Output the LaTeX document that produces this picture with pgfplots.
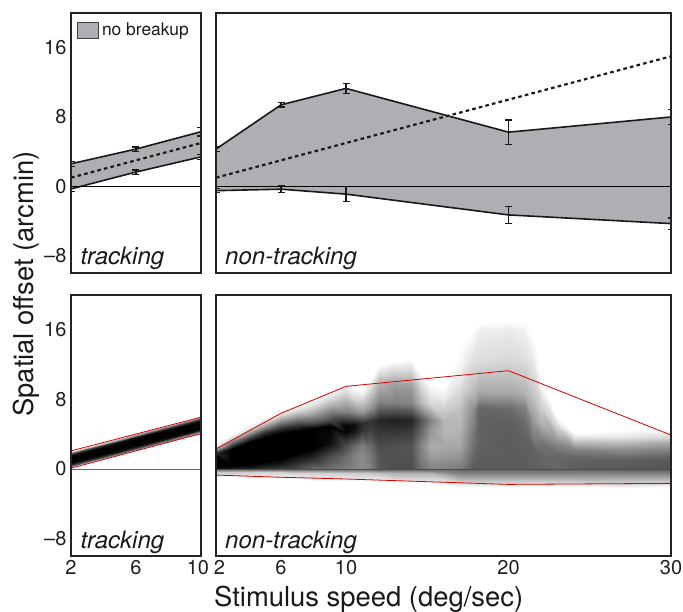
\documentclass[border=0pt]{standalone}
\usepackage{fontspec}
\setmainfont{TeX Gyre Heros}
\usepackage{pgfplots}
\usepackage{pgfplotstable}
\pgfplotsset{compat=1.18}
\definecolor{bandgray}{RGB}{174,175,178}
\definecolor{framec}{RGB}{35,35,35}
\pgfplotstableread{
x up upe lo loe
2 2.6 0.3 -0.3 0.3
6 4.3 0.25 1.65 0.25
10 6.3 0.5 3.4 0.3
}\trk
\pgfplotstableread{
x up upe lo loe
2 4.3 0.25 -0.5 0.25
6 9.4 0.25 -0.33 0.4
10 11.3 0.6 -0.9 0.85
20 6.25 1.4 -3.3 1.0
30 8.0 0.9 -4.3 0.65
}\ntrk
\tikzset{plab/.style={font=\fontsize{24}{26}\selectfont\itshape, anchor=base west, text=black!90}}
\pgfplotsset{
  panel/.style={scale only axis, clip=true,
    axis line style={line width=1.5pt, draw=framec},
    major tick length=0pt, tick style={draw=none},
    ymin=-10, ymax=20, ytick={-8,0,8,16},
    tick label style={font=\fontsize{20}{21}\selectfont, text=black!88},
    yticklabel style={xshift=-1pt},
    xticklabel style={yshift=-1pt},
    enlargelimits=false, axis on top},
  bandline/.style={line width=1.6pt, black!90, mark=none,
    error bars/.cd, y dir=both, y explicit,
    error bar style={line width=1.3pt, black!90},
    error mark options={rotate=90, line width=1.3pt, mark size=3.5pt, black!90}},
  dotline/.style={line width=2.2pt, black!90, dash pattern=on 3.6pt off 3.2pt},
  zero/.style={line width=0.7pt, black},
  redl/.style={line width=0.8pt, red!85!black},
  heat/.style={surf, shader=interp, point meta=explicit,
    colormap={invgray}{gray(0cm)=(0); gray(1cm)=(1)}, point meta min=0, point meta max=1,
    mesh/ordering=y varies},
}
\begin{document}
\begin{tikzpicture}
\path[use as bounding box] (0pt,0pt) rectangle (683pt,612pt);

% top left
\begin{axis}[panel, at={(71pt,339pt)}, anchor=south west, width=130pt, height=260pt,
  xmin=2, xmax=10, xtick=\empty, yticklabels={--8,0,8,16},
  legend style={at={(0.045,0.97)}, anchor=north west, draw=none, fill=none,
    inner sep=0pt, outer sep=0pt, font=\fontsize{17.4}{18}\selectfont, text=black!90,
    cells={anchor=west}, legend cell align=left},
  legend image code/.code={\draw[draw=black!75,line width=.7pt,fill=bandgray] (0pt,-8pt) rectangle (21pt,8pt);}]
\addplot[fill=bandgray, draw=none] coordinates {(2,2.6) (6,4.3) (10,6.3) (10,3.4) (6,1.65) (2,-0.3)} -- cycle;
\addlegendentry{\hspace*{1.5pt}no breakup}
\addplot[forget plot, bandline] table[x=x,y=up,y error=upe] {\trk};
\addplot[forget plot, bandline] table[x=x,y=lo,y error=loe] {\trk};
\addplot[zero, forget plot] coordinates {(2,0) (10,0)};
\addplot[dotline, forget plot] coordinates {(2,1) (10,5)};
\node[plab] at (axis cs:2.37,-9.05) {tracking};
\end{axis}

% top right
\begin{axis}[panel, at={(216pt,339pt)}, anchor=south west, width=455pt, height=260pt,
  xmin=2, xmax=30, xtick=\empty, ytick=\empty]
\addplot[fill=bandgray, draw=none] coordinates {(2,4.3) (6,9.4) (10,11.3) (20,6.25) (30,8.0) (30,-4.3) (20,-3.3) (10,-0.9) (6,-0.33) (2,-0.5)} -- cycle;
\addplot[forget plot, bandline] table[x=x,y=up,y error=upe] {\ntrk};
\addplot[forget plot, bandline] table[x=x,y=lo,y error=loe] {\ntrk};
\addplot[zero] coordinates {(2,0) (30,0)};
\addplot[dotline] coordinates {(2,1) (30,15)};
\node[plab] at (axis cs:2.35,-9.05) {non-tracking};
\end{axis}

% bottom left
\begin{axis}[panel, at={(71pt,56pt)}, anchor=south west, width=130pt, height=261pt,
  xmin=2, xmax=10, xtick={2,6,10}, xticklabels={2,6,10\hspace*{6pt}}, yticklabels={--8,0,8,16}]
\addplot[heat, mesh/rows=10] coordinates {
(2,0.08)[1] (2,0.2)[.8] (2,0.35)[.4] (2,0.55)[.1] (2,0.75)[0] (2,1.45)[0] (2,1.65)[.1] (2,1.85)[.4] (2,2.0)[.8] (2,2.12)[1]
(6,2.06)[1] (6,2.18)[.8] (6,2.33)[.4] (6,2.53)[.1] (6,2.73)[0] (6,3.43)[0] (6,3.63)[.1] (6,3.83)[.4] (6,3.98)[.8] (6,4.1)[1]
(10,4.05)[1] (10,4.17)[.8] (10,4.32)[.4] (10,4.52)[.1] (10,4.72)[0] (10,5.42)[0] (10,5.62)[.1] (10,5.82)[.4] (10,5.97)[.8] (10,6.09)[1]
};
\addplot[line width=.7pt, black!60] coordinates {(2,0) (10,0)};
\addplot[redl] coordinates {(2,2.08) (10,5.96)};
\addplot[redl] coordinates {(2,0.1) (10,4.07)};
\node[plab] at (axis cs:2.37,-9.1) {tracking};
\end{axis}

% bottom right
\begin{axis}[panel, at={(216pt,56pt)}, anchor=south west, width=455pt, height=261pt,
  xmin=2, xmax=30, xtick={2,6,10,20,30}, xticklabels={\hspace*{7pt}2,6,10,20,30}, ytick=\empty]
\addplot[heat, mesh/rows=12] coordinates {
(2,-.95)[1] (2,-.7)[.9] (2,-.4)[.78] (2,-.12)[.5] (2,.05)[.02] (2,.3)[0] (2,1.6)[0] (2,1.85)[.15] (2,2.1)[.4] (2,2.4)[.75] (2,2.7)[.95] (2,3)[1]
(3,-.95)[1] (3,-.7)[.9] (3,-.4)[.78] (3,-.12)[.5] (3,.05)[.1] (3,.3)[.02] (3,.5)[0] (3,2.3)[0] (3,2.7)[.2] (3,3.2)[.55] (3,3.7)[.9] (3,4.1)[1]
(4,-.95)[1] (4,-.7)[.9] (4,-.4)[.8] (4,-.12)[.5] (4,.05)[.15] (4,.3)[.05] (4,.5)[0] (4,3.15)[0] (4,3.6)[.25] (4,4.1)[.6] (4,4.7)[.93] (4,5.2)[1]
(5,-1)[1] (5,-.75)[.92] (5,-.4)[.82] (5,-.12)[.5] (5,.05)[.22] (5,.5)[.08] (5,.85)[0] (5,3.7)[0] (5,4.2)[.2] (5,4.8)[.55] (5,5.5)[.9] (5,6)[1]
(6,-1.1)[1] (6,-.8)[.92] (6,-.4)[.82] (6,-.12)[.5] (6,.05)[.25] (6,.6)[.1] (6,1.2)[0] (6,4.1)[0] (6,4.6)[.15] (6,5.4)[.5] (6,6.3)[.9] (6,6.9)[1]
(7,-1.2)[1] (7,-.9)[.92] (7,-.45)[.82] (7,-.12)[.5] (7,.05)[.3] (7,.9)[.15] (7,1.8)[0] (7,4.4)[0] (7,5)[.22] (7,5.8)[.5] (7,6.8)[.88] (7,7.5)[1]
(8,-1.3)[1] (8,-1)[.92] (8,-.5)[.82] (8,-.12)[.5] (8,.05)[.42] (8,1.2)[.18] (8,2.4)[0] (8,4.7)[0] (8,5.2)[.25] (8,6)[.52] (8,7.2)[.85] (8,8.2)[1]
(9,-1.3)[1] (9,-1)[.92] (9,-.5)[.82] (9,-.12)[.5] (9,.05)[.45] (9,1.5)[.3] (9,3)[.05] (9,4.9)[0] (9,5.6)[.3] (9,6.5)[.5] (9,7.8)[.8] (9,9)[1]
(10,-1.4)[1] (10,-1)[.9] (10,-.5)[.8] (10,-.12)[.5] (10,.05)[.5] (10,1.5)[.42] (10,2.6)[.3] (10,4.2)[.02] (10,4.9)[0] (10,6.5)[.5] (10,8.5)[.8] (10,10)[1]
(10.5,-1.4)[1] (10.5,-1)[.9] (10.5,-.5)[.8] (10.5,-.12)[.5] (10.5,.05)[.52] (10.5,1.5)[.5] (10.5,2.6)[.42] (10.5,4.3)[.1] (10.5,5)[.05] (10.5,6.5)[.55] (10.5,8.2)[.85] (10.5,9.5)[1]
(11,-1.4)[1] (11,-1)[.9] (11,-.5)[.8] (11,-.12)[.5] (11,.05)[.55] (11,1.5)[.55] (11,2.6)[.5] (11,4.5)[.2] (11,5.3)[.18] (11,6.5)[.6] (11,8)[.85] (11,9)[1]
(11.5,-1.4)[1] (11.5,-1)[.9] (11.5,-.5)[.78] (11.5,-.12)[.48] (11.5,.05)[.5] (11.5,1.5)[.48] (11.5,2.6)[.42] (11.5,4.5)[.25] (11.5,5.5)[.2] (11.5,7)[.58] (11.5,9)[.82] (11.5,10.2)[1]
(12,-1.4)[1] (12,-1)[.9] (12,-.5)[.75] (12,-.12)[.45] (12,.05)[.35] (12,1.5)[.33] (12,2.6)[.3] (12,4.5)[.2] (12,5.6)[.15] (12,7.6)[.5] (12,10)[.72] (12,12)[1]
(13,-1.5)[1] (13,-1.1)[.85] (13,-.5)[.7] (13,-.12)[.45] (13,.05)[.3] (13,1.5)[.32] (13,2.6)[.32] (13,4.5)[.2] (13,5.6)[.12] (13,7.6)[.5] (13,9.5)[.6] (13,12.4)[1]
(14,-1.5)[1] (14,-1.1)[.85] (14,-.5)[.7] (14,-.12)[.45] (14,.05)[.3] (14,1.5)[.32] (14,2.6)[.33] (14,4.5)[.22] (14,5.6)[.14] (14,7.6)[.52] (14,9.5)[.62] (14,12.7)[1]
(14.6,-1.5)[1] (14.6,-1.1)[.85] (14.6,-.5)[.7] (14.6,-.12)[.45] (14.6,.05)[.45] (14.6,1.5)[.5] (14.6,2.6)[.52] (14.6,4.5)[.4] (14.6,5.6)[.32] (14.6,7.6)[.72] (14.6,9.5)[.85] (14.6,11)[1]
(15.2,-1.6)[1] (15.2,-1.1)[.85] (15.2,-.5)[.7] (15.2,-.12)[.45] (15.2,.05)[.52] (15.2,1.5)[.62] (15.2,2.6)[.68] (15.2,4.5)[.6] (15.2,5.6)[.52] (15.2,7.6)[.85] (15.2,9)[.95] (15.2,10)[1]
(16,-1.8)[1] (16,-1.3)[.85] (16,-.6)[.65] (16,-.12)[.45] (16,.05)[.5] (16,1.5)[.6] (16,2.6)[.66] (16,4.5)[.72] (16,5.6)[.72] (16,6.8)[.8] (16,8)[.92] (16,9.3)[1]
(17,-2.1)[1] (17,-1.7)[.88] (17,-.8)[.6] (17,-.12)[.42] (17,.05)[.48] (17,1.5)[.58] (17,2.6)[.65] (17,4.5)[.7] (17,6.8)[.75] (17,9.9)[.9] (17,12)[.96] (17,14)[1]
(17.8,-2.1)[1] (17.8,-1.7)[.88] (17.8,-.8)[.6] (17.8,-.12)[.42] (17.8,.05)[.35] (17.8,1.5)[.4] (17.8,3)[.45] (17.8,5)[.5] (17.8,6.8)[.55] (17.8,8.7)[.72] (17.8,12.6)[.88] (17.8,16)[1]
(18.2,-2.1)[1] (18.2,-1.7)[.88] (18.2,-.8)[.6] (18.2,-.12)[.42] (18.2,.05)[.35] (18.2,3)[.38] (18.2,5)[.38] (18.2,7)[.4] (18.2,8.7)[.65] (18.2,12.6)[.87] (18.2,16)[.93] (18.2,16.8)[1]
(20,-2.1)[1] (20,-1.7)[.88] (20,-.8)[.6] (20,-.12)[.42] (20,.05)[.36] (20,3)[.36] (20,5)[.37] (20,7)[.42] (20,8.7)[.65] (20,12.6)[.85] (20,16)[.92] (20,17)[1]
(21,-2.1)[1] (21,-1.7)[.88] (21,-.8)[.6] (21,-.12)[.42] (21,.05)[.36] (21,3)[.38] (21,5.3)[.42] (21,7)[.5] (21,8.7)[.7] (21,12.6)[.87] (21,16)[.95] (21,17)[1]
(21.5,-2.1)[1] (21.5,-1.7)[.88] (21.5,-.8)[.6] (21.5,-.12)[.42] (21.5,.05)[.38] (21.5,2.2)[.38] (21.5,3)[.45] (21.5,5.5)[.6] (21.5,8.7)[.78] (21.5,12.6)[.92] (21.5,14)[.97] (21.5,16)[1]
(22,-2.1)[1] (22,-1.7)[.88] (22,-.8)[.6] (22,-.12)[.42] (22,.05)[.38] (22,1.5)[.4] (22,3)[.45] (22,5.3)[.7] (22,7)[.8] (22,9.2)[.95] (22,10)[.98] (22,11)[1]
(23,-2.1)[1] (23,-1.7)[.88] (23,-.8)[.6] (23,-.12)[.42] (23,.05)[.4] (23,1)[.4] (23,1.8)[.42] (23,3)[.55] (23,4.9)[.85] (23,5.5)[.95] (23,6)[1] (23,6.5)[1]
(24,-2.1)[1] (24,-1.7)[.88] (24,-.8)[.6] (24,-.12)[.42] (24,.05)[.37] (24,1)[.38] (24,1.4)[.4] (24,2.2)[.5] (24,3)[.7] (24,3.7)[.9] (24,4.1)[1] (24,4.6)[1]
(27,-2.2)[1] (27,-1.8)[.88] (27,-.8)[.6] (27,-.12)[.4] (27,.05)[.35] (27,1)[.38] (27,1.4)[.42] (27,2.2)[.55] (27,3)[.72] (27,3.7)[.9] (27,4.5)[1] (27,5)[1]
(30,-2.1)[1] (30,-1.7)[.88] (30,-.8)[.6] (30,-.12)[.4] (30,.05)[.33] (30,1)[.35] (30,1.4)[.38] (30,2.2)[.5] (30,3)[.65] (30,3.7)[.85] (30,4.5)[1] (30,5)[1]
};
\addplot[line width=.7pt, black!70] coordinates {(2,0) (30,0)};
\addplot[redl] coordinates {(2,2.3) (6,6.4) (10,9.5) (20,11.3) (30,3.9)};
\addplot[redl] coordinates {(2,-0.7) (6,-0.95) (10,-1.15) (20,-1.77) (30,-1.65)};
\node[plab] at (axis cs:2.35,-9.1) {non-tracking};
\end{axis}

\node[font=\fontsize{27.4}{28}\selectfont, rotate=90, anchor=base, text=black!90] at (33pt,328pt) {Spatial offset (arcmin)};
\node[font=\fontsize{27.4}{28}\selectfont, anchor=base west, text=black!90, inner sep=0pt] at (214pt,5pt) {Stimulus speed (deg/sec)};
\end{tikzpicture}
\end{document}
